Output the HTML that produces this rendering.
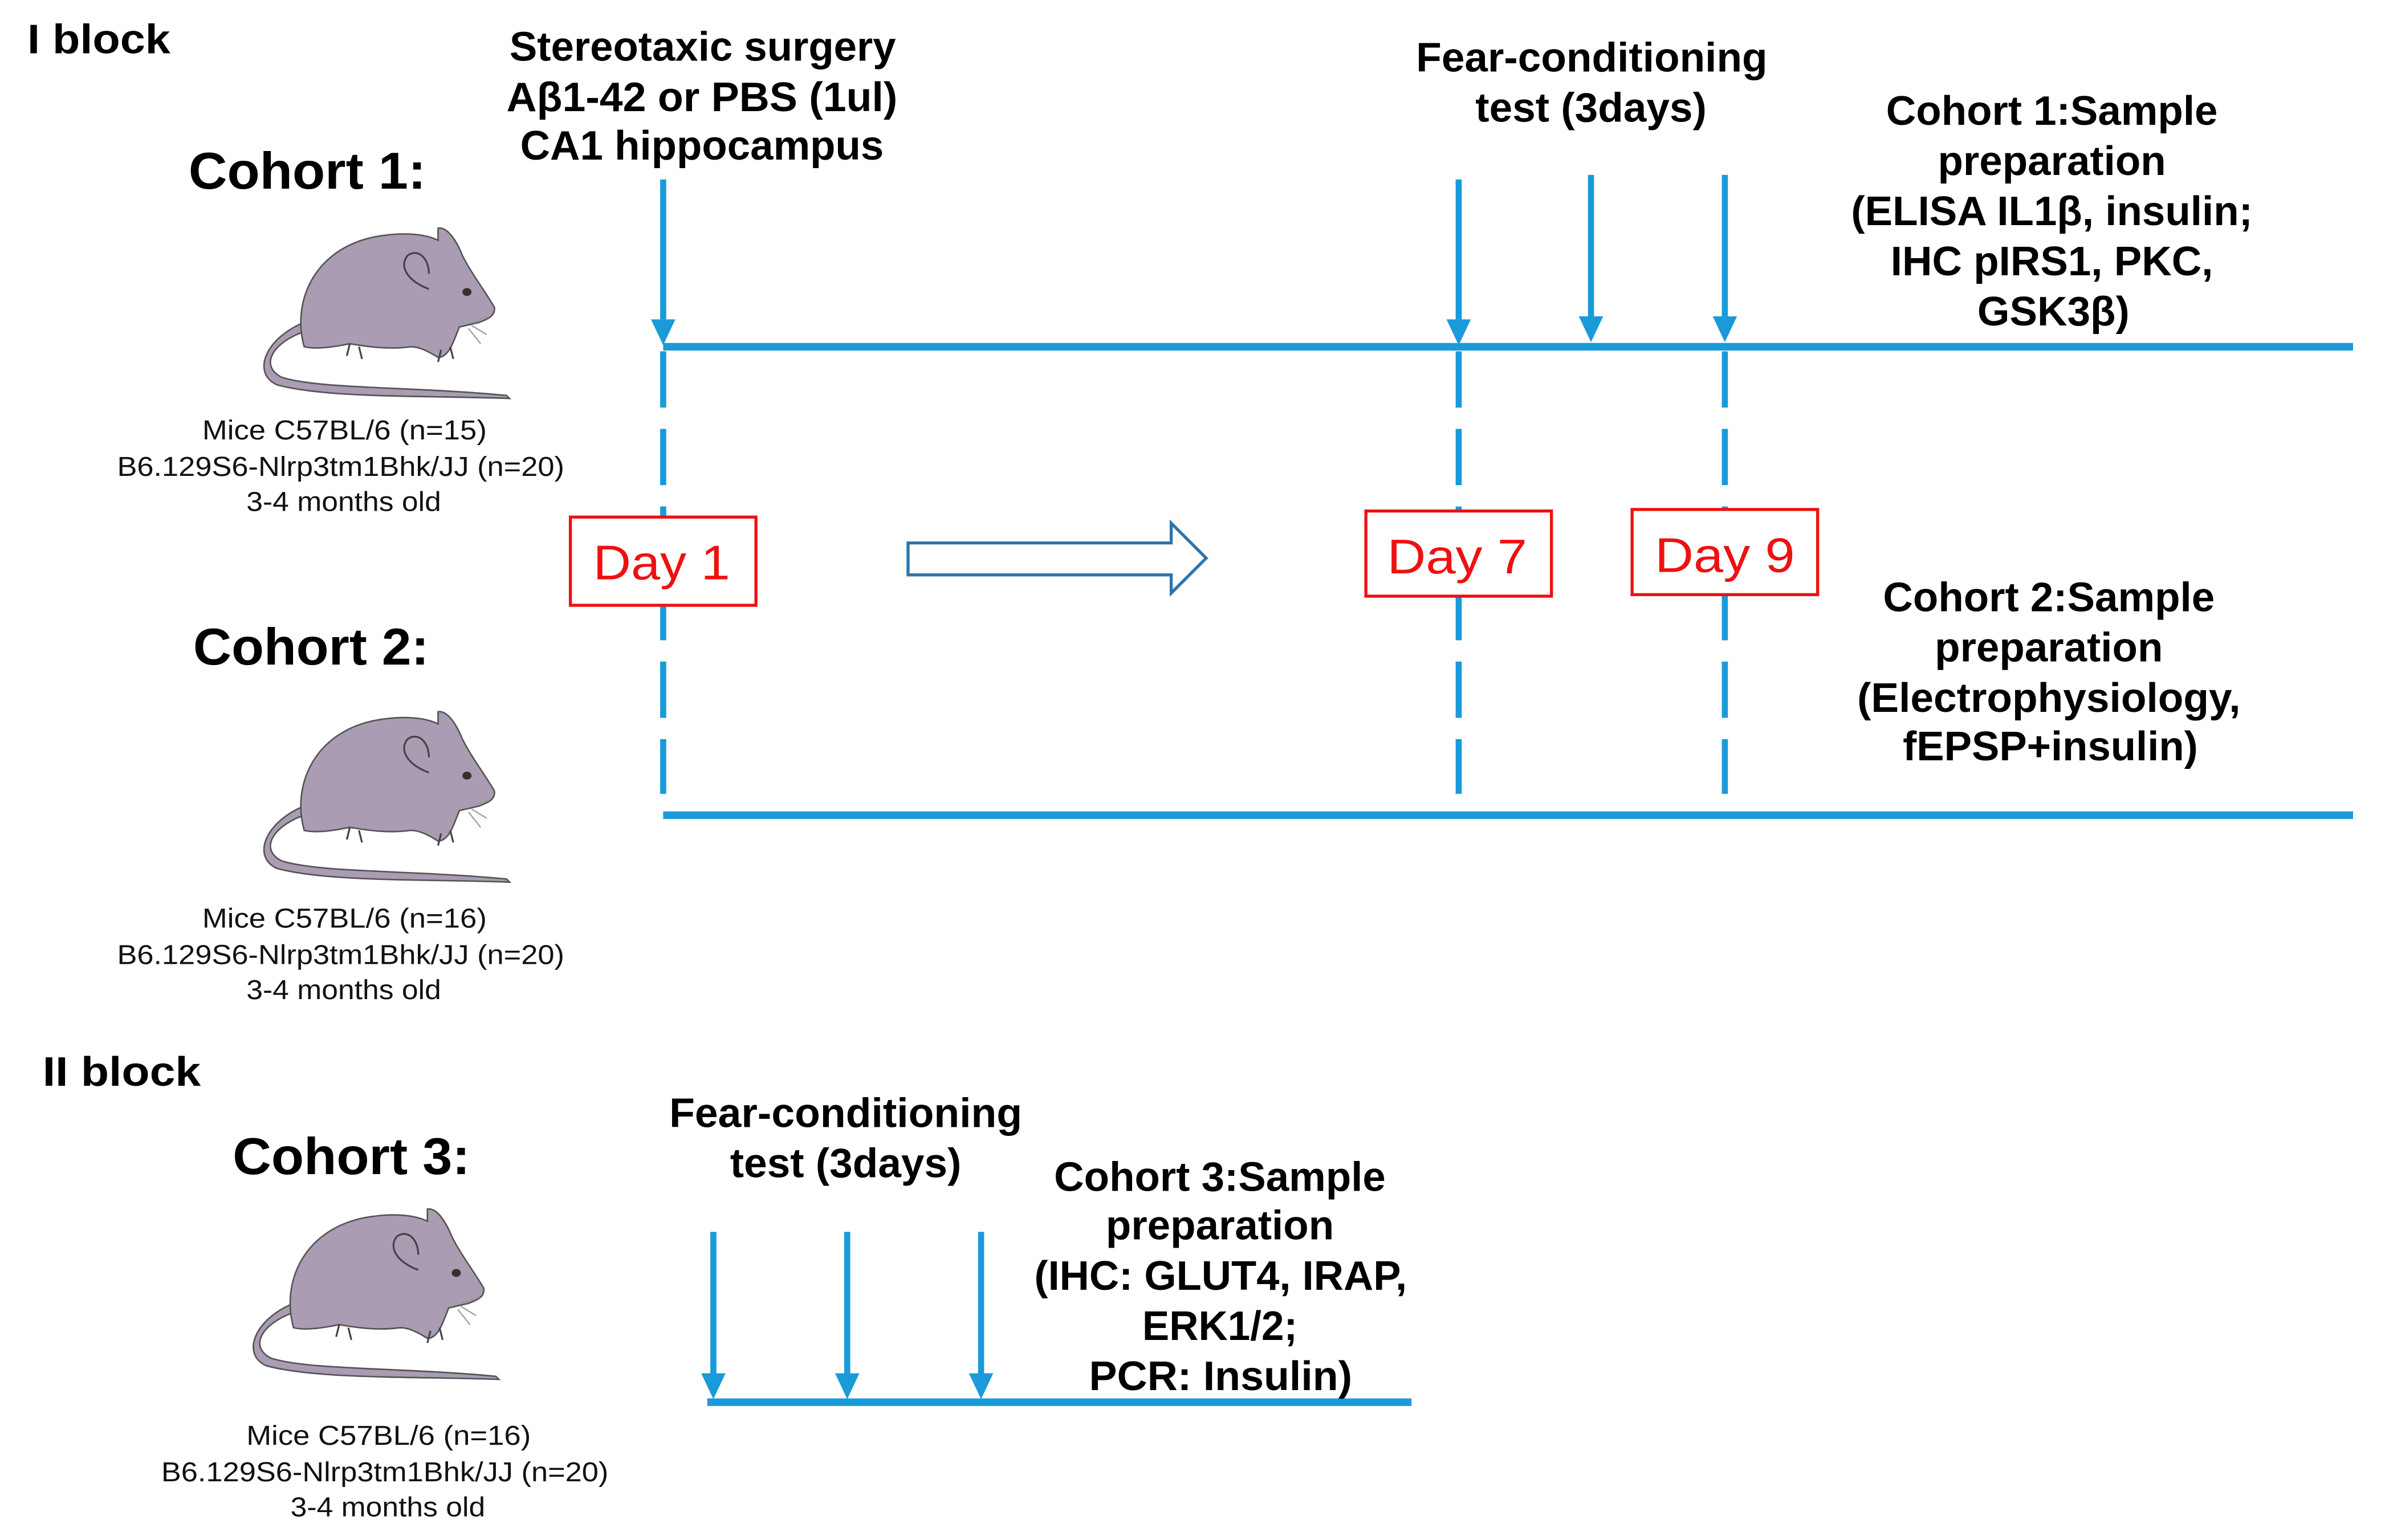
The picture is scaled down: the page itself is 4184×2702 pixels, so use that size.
<!DOCTYPE html>
<html><head><meta charset="utf-8"><style>
html,body{margin:0;padding:0;background:#fff;}
svg{display:block;}
text{font-family:"Liberation Sans",Arial,sans-serif;}
.b{font-weight:bold;fill:#000;}
.h{font-size:27px;}
.c{font-size:34px;}
.m{font-size:18px;fill:#111;}
.d{font-size:32px;fill:#ee1111;}
</style></head><body>
<svg width="4184" height="2702" viewBox="0 0 1568 1012.6" preserveAspectRatio="none" xmlns="http://www.w3.org/2000/svg">
<defs>
<g id="mouse">
<path d="M30,68 C10,75 0,90 15,98 C40,106 100,104 163,110 L165,112 C110,110 45,112 12,103 C-5,95 5,72 30,62 Z" fill="#a99cb3" stroke="#555" stroke-width="1"/>
<path d="M30,78 C22,50 35,15 75,6 C95,2 110,4 118,8 L118,0 C124,-1 130,8 134,18 C140,30 148,40 155,52 C156,58 150,60 145,62 L132,65 C128,75 125,85 118,85 C110,80 105,78 100,78 C85,80 72,78 60,76 C50,78 38,80 30,78 Z" fill="#a99cb3" stroke="#555" stroke-width="1"/>
<path d="M112,40 C98,35 92,25 98,18 C105,13 112,20 112,30" fill="none" stroke="#444" stroke-width="1.2"/>
<ellipse cx="137" cy="42" rx="3" ry="2.6" fill="#333"/>
<path d="M60,76 L58,84 M66,78 L68,86 M120,80 L118,88 M126,78 L128,86" stroke="#444" stroke-width="1.2"/>
<path d="M140,62 L152,58 M140,64 L150,70 M138,66 L146,76" stroke="#999" stroke-width="0.8"/>
</g>
</defs>
<g fill="#1a9ad9" stroke="none">
<rect x="436" y="225.5" width="1111" height="5"/>
<rect x="436" y="533.5" width="1111" height="5"/>
<rect x="465" y="919.5" width="463" height="5"/>
</g>
<g stroke="#1a9ad9" stroke-width="4">
<line x1="436" y1="118" x2="436" y2="210"/>
<line x1="959" y1="118" x2="959" y2="210"/>
<line x1="1046" y1="115" x2="1046" y2="210"/>
<line x1="1134" y1="115" x2="1134" y2="210"/>
<line x1="469" y1="810" x2="469" y2="905"/>
<line x1="557" y1="810" x2="557" y2="905"/>
<line x1="645" y1="810" x2="645" y2="905"/>
</g>
<g stroke="#1a9ad9" stroke-width="4" stroke-dasharray="37 14">
<line x1="436" y1="231" x2="436" y2="522"/>
<line x1="959" y1="231" x2="959" y2="522"/>
<line x1="1134" y1="231" x2="1134" y2="522"/>
</g>
<g fill="#1a9ad9">
<polygon points="428,210 444,210 436,227"/>
<polygon points="951,210 967,210 959,227"/>
<polygon points="1038,208 1054,208 1046,225"/>
<polygon points="1126,208 1142,208 1134,225"/>
<polygon points="461,903 477,903 469,920"/>
<polygon points="549,903 565,903 557,920"/>
<polygon points="637,903 653,903 645,920"/>
</g>
<polygon points="597,357 770,357 770,344 793,367 770,390 770,378 597,378" fill="#fff" stroke="#2e74a8" stroke-width="2"/>
<g fill="#fff" stroke="#ee1111" stroke-width="2">
<rect x="375" y="340" width="122" height="58"/>
<rect x="898" y="336" width="122" height="56"/>
<rect x="1073" y="335" width="122" height="56"/>
</g>
<text class="d" x="390" y="381" textLength="90" lengthAdjust="spacingAndGlyphs">Day 1</text>
<text class="d" x="912" y="377" textLength="92" lengthAdjust="spacingAndGlyphs">Day 7</text>
<text class="d" x="1088" y="376" textLength="92" lengthAdjust="spacingAndGlyphs">Day 9</text>
<use href="#mouse" transform="translate(170,150)"/>
<use href="#mouse" transform="translate(170,468)"/>
<use href="#mouse" transform="translate(163,795)"/>
<text class="b h" x="18" y="35" textLength="94" lengthAdjust="spacingAndGlyphs">I block</text>
<text class="b h" x="28" y="714" textLength="104" lengthAdjust="spacingAndGlyphs">II block</text>
<text class="b h" x="335" y="40" textLength="254" lengthAdjust="spacingAndGlyphs">Stereotaxic surgery</text>
<text class="b h" x="333" y="73" textLength="257" lengthAdjust="spacingAndGlyphs">Aβ1-42 or PBS (1ul)</text>
<text class="b h" x="342" y="105" textLength="239" lengthAdjust="spacingAndGlyphs">CA1 hippocampus</text>
<text class="b h" x="931" y="47" textLength="231" lengthAdjust="spacingAndGlyphs">Fear-conditioning</text>
<text class="b h" x="970" y="80" textLength="152" lengthAdjust="spacingAndGlyphs">test (3days)</text>
<text class="b h" x="1240" y="82" textLength="218" lengthAdjust="spacingAndGlyphs">Cohort 1:Sample</text>
<text class="b h" x="1274" y="115" textLength="150" lengthAdjust="spacingAndGlyphs">preparation</text>
<text class="b h" x="1217" y="148" textLength="264" lengthAdjust="spacingAndGlyphs">(ELISA IL1β, insulin;</text>
<text class="b h" x="1243" y="181" textLength="212" lengthAdjust="spacingAndGlyphs">IHC pIRS1, PKC,</text>
<text class="b h" x="1300" y="214" textLength="100" lengthAdjust="spacingAndGlyphs">GSK3β)</text>
<text class="b h" x="1238" y="402" textLength="218" lengthAdjust="spacingAndGlyphs">Cohort 2:Sample</text>
<text class="b h" x="1272" y="435" textLength="150" lengthAdjust="spacingAndGlyphs">preparation</text>
<text class="b h" x="1221" y="468" textLength="252" lengthAdjust="spacingAndGlyphs">(Electrophysiology,</text>
<text class="b h" x="1251" y="500" textLength="194" lengthAdjust="spacingAndGlyphs">fEPSP+insulin)</text>
<text class="b h" x="440" y="741" textLength="232" lengthAdjust="spacingAndGlyphs">Fear-conditioning</text>
<text class="b h" x="480" y="774" textLength="152" lengthAdjust="spacingAndGlyphs">test (3days)</text>
<text class="b h" x="693" y="783" textLength="218" lengthAdjust="spacingAndGlyphs">Cohort 3:Sample</text>
<text class="b h" x="727" y="815" textLength="150" lengthAdjust="spacingAndGlyphs">preparation</text>
<text class="b h" x="680" y="848" textLength="245" lengthAdjust="spacingAndGlyphs">(IHC: GLUT4, IRAP,</text>
<text class="b h" x="751" y="881" textLength="102" lengthAdjust="spacingAndGlyphs">ERK1/2;</text>
<text class="b h" x="716" y="914" textLength="173" lengthAdjust="spacingAndGlyphs">PCR: Insulin)</text>
<text class="b c" x="124" y="124" textLength="156" lengthAdjust="spacingAndGlyphs">Cohort 1:</text>
<text class="b c" x="127" y="437" textLength="155" lengthAdjust="spacingAndGlyphs">Cohort 2:</text>
<text class="b c" x="153" y="772" textLength="156" lengthAdjust="spacingAndGlyphs">Cohort 3:</text>
<text class="m" x="133" y="289" textLength="187" lengthAdjust="spacingAndGlyphs">Mice C57BL/6 (n=15)</text>
<text class="m" x="77" y="313" textLength="294" lengthAdjust="spacingAndGlyphs">B6.129S6-Nlrp3tm1Bhk/JJ (n=20)</text>
<text class="m" x="162" y="336" textLength="128" lengthAdjust="spacingAndGlyphs">3-4 months old</text>
<text class="m" x="133" y="610" textLength="187" lengthAdjust="spacingAndGlyphs">Mice C57BL/6 (n=16)</text>
<text class="m" x="77" y="634" textLength="294" lengthAdjust="spacingAndGlyphs">B6.129S6-Nlrp3tm1Bhk/JJ (n=20)</text>
<text class="m" x="162" y="657" textLength="128" lengthAdjust="spacingAndGlyphs">3-4 months old</text>
<text class="m" x="162" y="950" textLength="187" lengthAdjust="spacingAndGlyphs">Mice C57BL/6 (n=16)</text>
<text class="m" x="106" y="974" textLength="294" lengthAdjust="spacingAndGlyphs">B6.129S6-Nlrp3tm1Bhk/JJ (n=20)</text>
<text class="m" x="191" y="997" textLength="128" lengthAdjust="spacingAndGlyphs">3-4 months old</text>
</svg>
</body></html>
